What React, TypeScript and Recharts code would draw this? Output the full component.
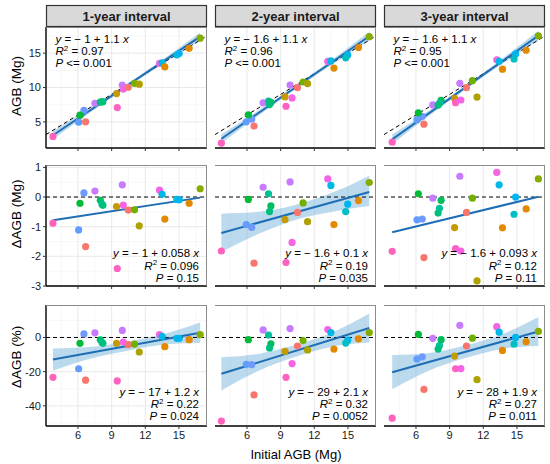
import React from 'react';
import { ComposedChart, Scatter, Line, Area, XAxis, YAxis, CartesianGrid, ReferenceLine } from 'recharts';

const FONT = '"Liberation Sans", Arial, Helvetica, sans-serif';

const intervals = ['1-year interval', '2-year interval', '3-year interval'];
const yTitles = ['AGB (Mg)', 'ΔAGB (Mg)', 'ΔAGB (%)'];
const xTitle = 'Initial AGB (Mg)';

// ---------- 1-year interval ----------
const x1 = [3.77, 6.06, 6.53, 6.18, 6.68, 7.51, 7.99, 8.14, 8.22, 9.5, 9.44, 9.95, 10.04, 10.48, 11.04, 11.46, 13.27, 13.5, 13.74, 14.81, 15.02, 15.91, 16.89];
const agb1 = [2.89, 4.95, 6.67, 5.97, 5.01, 7.71, 7.88, 7.9, 7.94, 7.09, 9.12, 10.36, 9.77, 10.04, 10.61, 10.49, 13.5, 13.59, 13.0, 14.73, 14.93, 15.7, 17.17];
const dMg1 = [-0.88, -1.11, 0.14, -0.21, -1.67, 0.2, -0.11, -0.24, -0.28, -2.41, -0.32, 0.41, -0.27, -0.44, -0.43, -0.97, 0.23, 0.09, -0.74, -0.08, -0.09, -0.21, 0.28];
const dPct1 = [-23.3, -18.3, 2.1, -3.4, -25.0, 2.7, -1.4, -2.9, -3.4, -25.4, -3.4, 4.1, -2.7, -4.2, -3.9, -8.5, 1.7, 0.7, -5.4, -0.5, -0.6, -1.3, 1.7];
const col1 = ['#FF62BC', '#619CFF', '#6E9AFF', '#00BA38', '#F8766D', '#C77CFF', '#00BD5C', '#00C19A', '#00BF7D', '#FF61C3', '#C49A00', '#C77CFF', '#F564E3', '#F8766D', '#72B000', '#AEA200', '#F564E3', '#00B8E7', '#E38900', '#00BCD8', '#00B4F0', '#E38900', '#86AC00'];

// ---------- 2-year interval ----------
const x2 = [3.72, 5.94, 6.42, 6.12, 6.63, 7.44, 7.92, 8.13, 8.01, 9.48, 9.39, 9.84, 10.02, 10.5, 11.0, 11.4, 13.2, 13.48, 13.75, 14.98, 14.8, 15.94, 16.9];
const agb2 = [1.9, 5.01, 5.4, 6.04, 4.4, 7.77, 8.03, 7.83, 7.52, 7.27, 8.63, 10.35, 8.49, 9.98, 10.8, 10.57, 13.81, 13.87, 12.82, 14.74, 14.31, 15.82, 17.39];
const dMg2 = [-1.82, -0.93, -1.02, -0.08, -2.23, 0.33, 0.11, -0.3, -0.49, -2.21, -0.76, 0.51, -1.53, -0.52, -0.2, -0.83, 0.61, 0.39, -0.93, -0.24, -0.49, -0.12, 0.49];
const dPct2 = [-48.9, -15.7, -15.9, -1.3, -33.6, 4.4, 1.4, -3.7, -6.1, -23.3, -8.1, 5.2, -15.3, -5.0, -1.8, -7.3, 4.6, 2.9, -6.8, -1.6, -3.3, -0.8, 2.9];
const col2 = ['#FF62BC', '#619CFF', '#6E9AFF', '#00BA38', '#F8766D', '#C77CFF', '#00C19A', '#00BD5C', '#00BF7D', '#FF61C3', '#C49A00', '#C77CFF', '#F564E3', '#F8766D', '#72B000', '#AEA200', '#F564E3', '#00B8E7', '#E38900', '#00B4F0', '#00BFC4', '#E38900', '#86AC00'];

// ---------- 3-year interval ----------
const x3 = [3.88, 6.71, 6.09, 6.56, 6.21, 7.5, 8.24, 8.09, 7.97, 9.91, 9.44, 9.53, 10.0, 10.5, 11.03, 11.44, 13.2, 13.41, 13.71, 14.88, 14.74, 15.82, 16.91];
const agb3 = [2.05, 4.67, 5.32, 5.82, 6.32, 7.46, 8.13, 7.71, 7.43, 10.61, 8.41, 7.79, 8.18, 9.98, 10.99, 8.61, 14.03, 13.82, 12.67, 14.88, 14.16, 15.42, 17.52];
const dMg3 = [-1.83, -2.04, -0.77, -0.74, 0.11, -0.04, -0.11, -0.38, -0.54, 0.7, -1.03, -1.74, -1.82, -0.52, -0.04, -2.83, 0.83, 0.41, -1.04, 0.0, -0.58, -0.4, 0.61];
const dPct3 = [-47.2, -30.4, -12.6, -11.3, 1.8, -0.5, -1.3, -4.7, -6.8, 7.1, -10.9, -18.3, -18.2, -5.0, -0.4, -24.7, 6.3, 3.1, -7.6, 0.0, -3.9, -2.5, 3.6];
const col3 = ['#FF62BC', '#F8766D', '#619CFF', '#6E9AFF', '#00BA38', '#C77CFF', '#00BD5C', '#00C19A', '#00BF7D', '#C77CFF', '#C49A00', '#FF61C3', '#F564E3', '#F8766D', '#72B000', '#AEA200', '#F564E3', '#00B8E7', '#E38900', '#00B4F0', '#00BFC4', '#E38900', '#86AC00'];

// ---------- fitted lines (ends of the fitted range) ----------
const fitX1 = [3.77, 16.89];
const fitX2 = [3.72, 16.9];
const fitX3 = [3.88, 16.91];
const fitAgb1 = [3.06, 17.4];
const fitAgb2 = [2.55, 17.45];
const fitAgb3 = [2.45, 17.55];
const fitMg1 = [-0.78, -0.02];
const fitMg2 = [-1.21, 0.17];
const fitMg3 = [-1.19, 0.01];
const fitPct1 = [-12.9, 2.7];
const fitPct2 = [-21.25, 5.5];
const fitPct3 = [-20.3, 3.5];

// ---------- confidence bands ----------
const bandX1 = [3.77, 7, 10.2, 14, 16.89];
const bandX2 = [3.72, 7, 10.2, 14, 16.9];
const bandX3 = [3.88, 7, 10.3, 14, 16.91];
const bandAgbLo1 = [2.46, 6.24, 9.84, 13.89, 16.8];
const bandAgbHi1 = [3.66, 6.94, 10.34, 14.59, 18.0];
const bandAgbLo2 = [1.9, 5.88, 9.61, 13.79, 16.8];
const bandAgbHi2 = [3.2, 6.64, 10.15, 14.55, 18.1];
const bandAgbLo3 = [1.75, 5.67, 9.61, 13.78, 16.85];
const bandAgbHi3 = [3.15, 6.47, 10.17, 14.58, 18.25];
const bandMgLo2 = [-1.85, -1.25, -0.78, -0.47, -0.3];
const bandMgHi2 = [-0.56, -0.5, -0.28, 0.21, 0.72];
const bandPctLo1 = [-19.4, -12.6, -8.0, -4.0, -3.3];
const bandPctHi1 = [-6.4, -5.6, -2.6, 2.6, 8.7];
const bandPctLo2 = [-31.0, -19.6, -11.6, -4.9, -3.0];
const bandPctHi2 = [-11.5, -9.6, -4.6, 4.1, 14.0];
const bandPctLo3 = [-30.3, -19.9, -12.2, -6.4, -5.0];
const bandPctHi3 = [-10.3, -9.3, -4.9, 2.8, 12.0];

// ---------- axes ----------
const X_DOMAIN = [3.15, 17.5];
const X_TICKS = [6, 9, 12, 15];
const X_MINOR = [4.5, 7.5, 10.5, 13.5, 16.5];
const Y_DOMAINS = [[1.2, 18.8], [-3.0, 1.08], [-51.8, 19]];
const Y_TICKS = [[5, 10, 15], [-3, -2, -1, 0, 1], [-40, -20, 0]];
const Y_MINOR = [[2.5, 7.5, 12.5, 17.5], [-2.5, -1.5, -0.5, 0.5], [-50, -30, -10, 10]];

// ---------- annotation text ----------
const eqText = [
  ['− 1 + 1.1', '− 1.6 + 1.1', '− 1.6 + 1.1'],
  ['− 1 + 0.058', '− 1.6 + 0.1', '− 1.6 + 0.093'],
  ['− 17 + 1.2', '− 29 + 2.1', '− 28 + 1.9'],
];
const r2Text = [['0.97', '0.96', '0.95'], ['0.096', '0.19', '0.12'], ['0.22', '0.32', '0.27']];
const pText = [['<= 0.001', '<= 0.001', '<= 0.001'], ['= 0.15', '= 0.035', '= 0.11'], ['= 0.024', '= 0.0052', '= 0.011']];

// ---------- layout ----------
const COL_LEFT = [46, 215, 384];
const ROW_TOP = [27, 165, 305];
const PW = 161;
const PH = 121;
const PAD = 7;

const mkPts = (xs: number[], ys: number[], cs: string[]) => xs.map((x, i) => ({ x, y: ys[i], c: cs[i] }));
const mkFit = (xs: number[], ys: number[]) => xs.map((x, i) => ({ x, y: ys[i] }));
const mkBand = (xs: number[], lo: number[], hi: number[]) => xs.map((x, i) => ({ x, band: [lo[i], hi[i]] }));

const panels = [
  [
    { pts: mkPts(x1, agb1, col1), fit: mkFit(fitX1, fitAgb1), band: mkBand(bandX1, bandAgbLo1, bandAgbHi1) },
    { pts: mkPts(x2, agb2, col2), fit: mkFit(fitX2, fitAgb2), band: mkBand(bandX2, bandAgbLo2, bandAgbHi2) },
    { pts: mkPts(x3, agb3, col3), fit: mkFit(fitX3, fitAgb3), band: mkBand(bandX3, bandAgbLo3, bandAgbHi3) },
  ],
  [
    { pts: mkPts(x1, dMg1, col1), fit: mkFit(fitX1, fitMg1), band: null },
    { pts: mkPts(x2, dMg2, col2), fit: mkFit(fitX2, fitMg2), band: mkBand(bandX2, bandMgLo2, bandMgHi2) },
    { pts: mkPts(x3, dMg3, col3), fit: mkFit(fitX3, fitMg3), band: null },
  ],
  [
    { pts: mkPts(x1, dPct1, col1), fit: mkFit(fitX1, fitPct1), band: mkBand(bandX1, bandPctLo1, bandPctHi1) },
    { pts: mkPts(x2, dPct2, col2), fit: mkFit(fitX2, fitPct2), band: mkBand(bandX2, bandPctLo2, bandPctHi2) },
    { pts: mkPts(x3, dPct3, col3), fit: mkFit(fitX3, fitPct3), band: mkBand(bandX3, bandPctLo3, bandPctHi3) },
  ],
];

const Dot = (p: any) => <circle cx={p.cx} cy={p.cy} r={3.6} fill={p.payload.c} />;

function Panel({ row, col }: { row: number; col: number }) {
  const d = panels[row][col];
  const yw = col === 0 ? 40 : 0;
  const xh = row === 2 ? 20 : 4;
  return (
    <div style={{ position: 'absolute', left: COL_LEFT[col] - yw, top: ROW_TOP[row] - PAD }}>
      <ComposedChart
        width={PW + yw + PAD}
        height={PH + xh + 2 * PAD}
        margin={{ top: PAD, right: PAD, bottom: PAD, left: 0 }}
      >
        <CartesianGrid horizontalValues={Y_MINOR[row]} verticalValues={X_MINOR} stroke="#F1F1F1" strokeWidth={0.6} />
        <CartesianGrid horizontalValues={Y_TICKS[row]} verticalValues={X_TICKS} stroke="#E6E6E6" strokeWidth={0.9} />
        <XAxis
          type="number"
          dataKey="x"
          domain={X_DOMAIN}
          ticks={X_TICKS}
          interval={0}
          allowDataOverflow
          height={xh}
          tickSize={3}
          tickLine={{ stroke: '#333' }}
          axisLine={{ stroke: '#000', strokeWidth: 1.4 }}
          tick={{ fontSize: 11, fill: '#1a1a1a', fontFamily: FONT }}
          tickFormatter={row === 2 ? undefined : () => ''}
        />
        <YAxis
          type="number"
          domain={Y_DOMAINS[row]}
          ticks={Y_TICKS[row]}
          interval={0}
          allowDataOverflow
          width={yw}
          tickSize={3}
          tickLine={col === 0 ? { stroke: '#333' } : false}
          axisLine={{ stroke: '#000', strokeWidth: 1.4 }}
          tick={col === 0 ? { fontSize: 11, fill: '#1a1a1a', fontFamily: FONT } : false}
        />
        {d.band && (
          <Area
            data={d.band}
            dataKey="band"
            type="monotone"
            stroke="none"
            fill="#6BAED6"
            fillOpacity={0.45}
            isAnimationActive={false}
          />
        )}
        {row === 0 ? (
          <ReferenceLine
            segment={[{ x: X_DOMAIN[0], y: X_DOMAIN[0] }, { x: X_DOMAIN[1], y: X_DOMAIN[1] }]}
            stroke="#000"
            strokeWidth={1}
            strokeDasharray="4 3"
          />
        ) : (
          <ReferenceLine y={0} stroke="#000" strokeWidth={1} strokeDasharray="4 3" />
        )}
        <Line
          data={d.fit}
          dataKey="y"
          type="linear"
          stroke="#1F6EB5"
          strokeWidth={2}
          dot={false}
          activeDot={false}
          isAnimationActive={false}
        />
        <Scatter data={d.pts} dataKey="y" shape={Dot} isAnimationActive={false} />
      </ComposedChart>
    </div>
  );
}

function Annot({ row, col }: { row: number; col: number }) {
  const left = COL_LEFT[col];
  const isTop = row === 0;
  const x = isTop ? left + 9.5 : left + PW - 8;
  const anchor = isTop ? 'start' : 'end';
  const bases = row === 0 ? [43, 55, 67] : row === 1 ? [257, 269.5, 281.5] : [395.5, 408, 419.5];
  const common = { x, textAnchor: anchor as any, fontSize: 11.5, fontFamily: FONT, fill: '#000' };
  return (
    <g>
      <text {...common} y={bases[0]}>
        <tspan fontStyle="italic">y</tspan>
        {` = ${eqText[row][col]} `}
        <tspan fontStyle="italic">x</tspan>
      </text>
      <text {...common} y={bases[1]}>
        <tspan fontStyle="italic">R</tspan>
        <tspan dy={-4.5} fontSize={8}>2</tspan>
        <tspan dy={4.5}>{` = ${r2Text[row][col]}`}</tspan>
      </text>
      <text {...common} y={bases[2]}>
        <tspan fontStyle="italic">P</tspan>
        {` ${pText[row][col]}`}
      </text>
    </g>
  );
}

export default function App() {
  const rows = [0, 1, 2];
  const cols = [0, 1, 2];
  const titleY = [86, 214, 357];
  return (
    <div style={{ position: 'absolute', left: 0, top: 0, width: 550, height: 464, background: '#fff', fontFamily: FONT }}>
      {rows.map((r) => cols.map((c) => <Panel key={`${r}-${c}`} row={r} col={c} />))}
      <svg width={550} height={464} style={{ position: 'absolute', left: 0, top: 0, pointerEvents: 'none' }}>
        {rows.map((r) =>
          cols.map((c) => (
            <g key={`b${r}${c}`}>
              <line x1={COL_LEFT[c]} y1={ROW_TOP[r] + 0.5} x2={COL_LEFT[c] + PW} y2={ROW_TOP[r] + 0.5} stroke="#8C8C8C" strokeWidth={1} />
              <line x1={COL_LEFT[c] + PW - 0.5} y1={ROW_TOP[r]} x2={COL_LEFT[c] + PW - 0.5} y2={ROW_TOP[r] + PH} stroke="#8C8C8C" strokeWidth={1} />
            </g>
          ))
        )}
        {cols.map((c) => (
          <g key={`s${c}`}>
            <rect x={COL_LEFT[c] + 0.5} y={5.5} width={PW - 1} height={21} fill="#D9D9D9" stroke="#333" strokeWidth={1.2} />
            <text x={COL_LEFT[c] + PW / 2} y={21} textAnchor="middle" fontSize={13} fontWeight="bold" fontFamily={FONT} fill="#1a1a1a">
              {intervals[c]}
            </text>
          </g>
        ))}
        {rows.map((r) => cols.map((c) => <Annot key={`a${r}${c}`} row={r} col={c} />))}
        {rows.map((r) => (
          <text
            key={`yt${r}`}
            x={20.5}
            y={titleY[r]}
            transform={`rotate(-90, 20.5, ${titleY[r]})`}
            textAnchor="middle"
            fontSize={13.5}
            fontFamily={FONT}
            fill="#000"
          >
            {yTitles[r]}
          </text>
        ))}
        <text x={296} y={458.5} textAnchor="middle" fontSize={13} fontFamily={FONT} fill="#000">
          {xTitle}
        </text>
      </svg>
    </div>
  );
}
